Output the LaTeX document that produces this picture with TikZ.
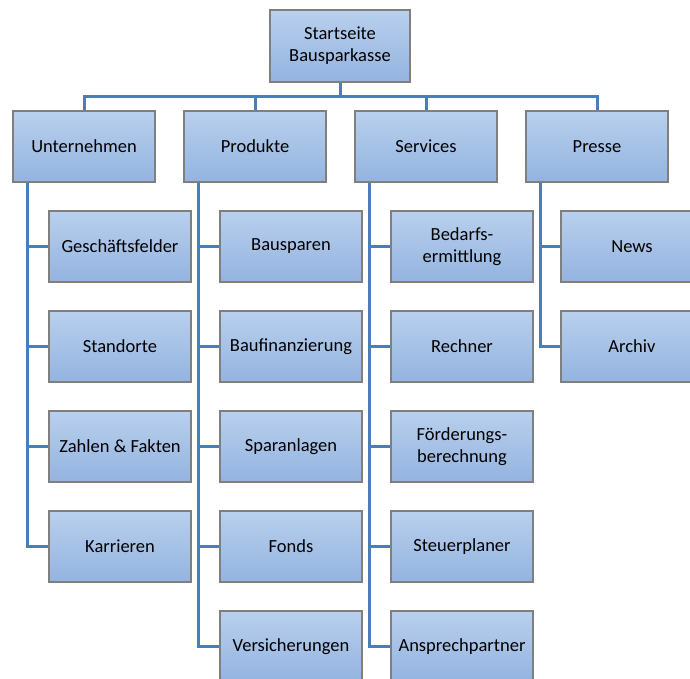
\documentclass[tikz,border=0pt]{standalone}
\usepackage{fontspec}
\setmainfont{Carlito}
\definecolor{boxtop}{HTML}{B9D0ED}
\definecolor{boxbot}{HTML}{93B3DF}
\definecolor{boxline}{HTML}{7F7F7F}
\definecolor{conn}{HTML}{4A7EBB}
\begin{document}
\begin{tikzpicture}[x=1pt,y=1pt,
  box/.style={draw=boxline, line width=1.2pt, top color=boxtop, bottom color=boxbot,
    minimum width=142pt, minimum height=71pt, inner sep=2pt, align=center,
    font=\fontsize{18.5}{22}\selectfont},
  link/.style={draw=conn, line width=3pt}]
\useasboundingbox (0,0) rectangle (690,-679);
\clip (0,0) rectangle (690,-679);
\node[box, minimum width=140pt, minimum height=72pt] (root) at (340,-46) {Startseite\\Bausparkasse};
\node[box] (u) at (84,-146.5) {Unternehmen};
\node[box] (p) at (255,-146.5) {Produkte};
\node[box] (s) at (426,-146.5) {Services};
\node[box] (r) at (597,-146.5) {Presse};
% children
\node[box] (u1) at (120,-246.5) {Geschäftsfelder};
\node[box] (u2) at (120,-346.5) {Standorte};
\node[box] (u3) at (120,-446.5) {Zahlen \& Fakten};
\node[box] (u4) at (120,-546.5) {Karrieren};
\node[box] (p1) at (291,-246.5) {Bausparen};
\node[box] (p2) at (291,-346.5) {Baufinanzierung};
\node[box] (p3) at (291,-446.5) {Sparanlagen};
\node[box] (p4) at (291,-546.5) {Fonds};
\node[box] (p5) at (291,-646.5) {Versicherungen};
\node[box] (s1) at (462,-246.5) {Bedarfs-\\ermittlung};
\node[box] (s2) at (462,-346.5) {Rechner};
\node[box] (s3) at (462,-446.5) {Förderungs-\\berechnung};
\node[box] (s4) at (462,-546.5) {Steuerplaner};
\node[box] (s5) at (462,-646.5) {Ansprechpartner};
\node[box] (r1) at (632,-246.5) {News};
\node[box] (r2) at (632,-346.5) {Archiv};
\coordinate (bus) at (0,-96.5);
\begin{scope}[on background layer/.try]
\foreach \t in {u,p,s,r} \draw[link] (root.south) -- (root.south |- bus) -| (\t.north);
\foreach \c in {u1,u2,u3,u4} \draw[link] ([xshift=15pt]u.south west) |- (\c.west);
\foreach \c in {p1,p2,p3,p4,p5} \draw[link] ([xshift=15pt]p.south west) |- (\c.west);
\foreach \c in {s1,s2,s3,s4,s5} \draw[link] ([xshift=15pt]s.south west) |- (\c.west);
\foreach \c in {r1,r2} \draw[link] ([xshift=15pt]r.south west) |- (\c.west);
\end{scope}
\end{tikzpicture}
\end{document}
